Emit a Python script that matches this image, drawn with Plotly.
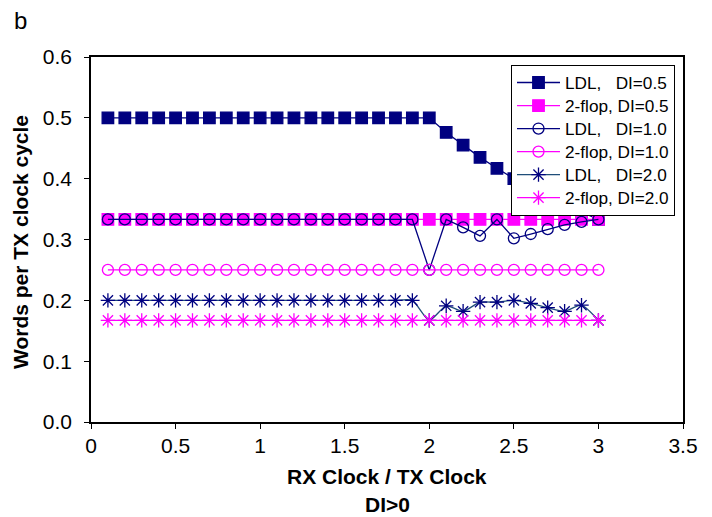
import plotly.graph_objects as go

x_vals = [round(0.1 * i, 1) for i in range(1, 31)]

ldl_05 = [0.5] * 20 + [0.476, 0.455, 0.435, 0.417, 0.400, 0.385, 0.370, 0.357, 0.345, 0.333]
flop_05 = [0.333] * 30
ldl_10 = [0.333] * 19 + [0.25, 0.333, 0.320, 0.306, 0.333, 0.302, 0.309, 0.317, 0.324, 0.329, 0.333]
flop_10 = [0.25] * 30
ldl_20 = [0.2] * 19 + [0.167, 0.191, 0.182, 0.197, 0.197, 0.200, 0.195, 0.188, 0.182, 0.192, 0.167]
flop_20 = [0.167] * 30

names = ["LDL,\u00a0\u00a0\u00a0DI=0.5", "2-flop, DI=0.5", "LDL,\u00a0\u00a0\u00a0DI=1.0",
         "2-flop, DI=1.0", "LDL,\u00a0\u00a0\u00a0DI=2.0", "2-flop, DI=2.0"]

x_title = "RX Clock / TX Clock"
x_subtitle = "DI>0"
y_title = "Words per TX clock cycle"
panel = "b"

NAVY = "#000080"
MAG = "#FF00FF"
FONT = "Liberation Sans, Arial, sans-serif"

# (values, line color, marker color, symbol, size, line shape)
specs = [
    (ldl_05, NAVY, NAVY, "square", 11.5, "linear"),
    (flop_05, MAG, MAG, "square", 11.5, "linear"),
    (ldl_10, NAVY, NAVY, "circle-open", 11, "linear"),
    (flop_10, MAG, MAG, "circle-open", 11, "linear"),
    (ldl_20, "#1F4E79", NAVY, "asterisk-open", 12, "spline"),
    (flop_20, MAG, MAG, "asterisk-open", 12, "linear"),
]

fig = go.Figure()
for (ys, lc, mc, sym, sz, shape), nm in zip(specs, names):
    line = dict(color=lc, width=1.3, shape=shape)
    if shape == "spline":
        line["smoothing"] = 0.6
    fig.add_trace(go.Scatter(
        x=x_vals, y=ys, name=f'<span style="font-size:17.2px">{nm}</span>',
        mode="lines+markers", line=line,
        marker=dict(symbol=sym, size=sz, color=mc, line=dict(color=mc, width=1.3)),
    ))

# page is drawn with an 8px body margin, so figure coords = page coords - 8
OFF = 8
W, H = 712 - OFF, 517 - OFF
L, T = 91 - OFF, 57 - OFF
R, B = 29, 95
pw, ph = W - L - R, H - T - B

def px_to_paper(xp, yp):
    # xp, yp are target page pixels
    return (xp - OFF - L) / pw, (H - B - (yp - OFF)) / ph

lx, ly = px_to_paper(511, 65)
fig.update_layout(
    width=W, height=H,
    margin=dict(l=L, r=R, t=T, b=B, autoexpand=False),
    paper_bgcolor="white", plot_bgcolor="white",
    font=dict(family=FONT, color="black", size=20),
    showlegend=True,
    legend=dict(x=lx, y=ly, xanchor="left", yanchor="top",
                bordercolor="black", borderwidth=1, bgcolor="white",
                font=dict(size=15.4), tracegroupgap=0, itemwidth=43),
    xaxis=dict(range=[0, 3.5], dtick=0.5, showgrid=False, zeroline=False, automargin=False,
               showline=True, linecolor="black", linewidth=1.5, mirror=True,
               ticks="outside", ticklen=5, tickcolor="black", tickwidth=1,
               tickfont=dict(size=21), tickformat="~g", ticklabelstandoff=-1),
    yaxis=dict(range=[0, 0.6], dtick=0.1, showgrid=False, zeroline=False, automargin=False,
               showline=True, linecolor="black", linewidth=1.5, mirror=True,
               ticks="outside", ticklen=5, tickcolor="black", tickwidth=1,
               tickfont=dict(size=21), tickformat=".1f", ticklabelstandoff=8),
)

ax, ay = px_to_paper(387, 476)
fig.add_annotation(text=f"<b>{x_title}</b>", xref="paper", yref="paper", x=ax, y=ay,
                   xanchor="center", yanchor="middle", showarrow=False, font=dict(size=21))
ax, ay = px_to_paper(387, 517)
fig.add_annotation(text=f"<b>{x_subtitle}</b>", xref="paper", yref="paper", x=ax, y=ay,
                   xanchor="center", yanchor="bottom", showarrow=False, borderpad=0,
                   font=dict(size=21))
ax, ay = px_to_paper(20, 242)
fig.add_annotation(text=f"<b>{y_title}</b>", xref="paper", yref="paper", x=ax, y=ay,
                   xanchor="center", yanchor="middle", showarrow=False, textangle=-90,
                   font=dict(size=21))
ax, ay = px_to_paper(20, 21)
fig.add_annotation(text=panel, xref="paper", yref="paper", x=ax, y=ay,
                   xanchor="center", yanchor="middle", showarrow=False, font=dict(size=24))

fig.write_html("out.html")
